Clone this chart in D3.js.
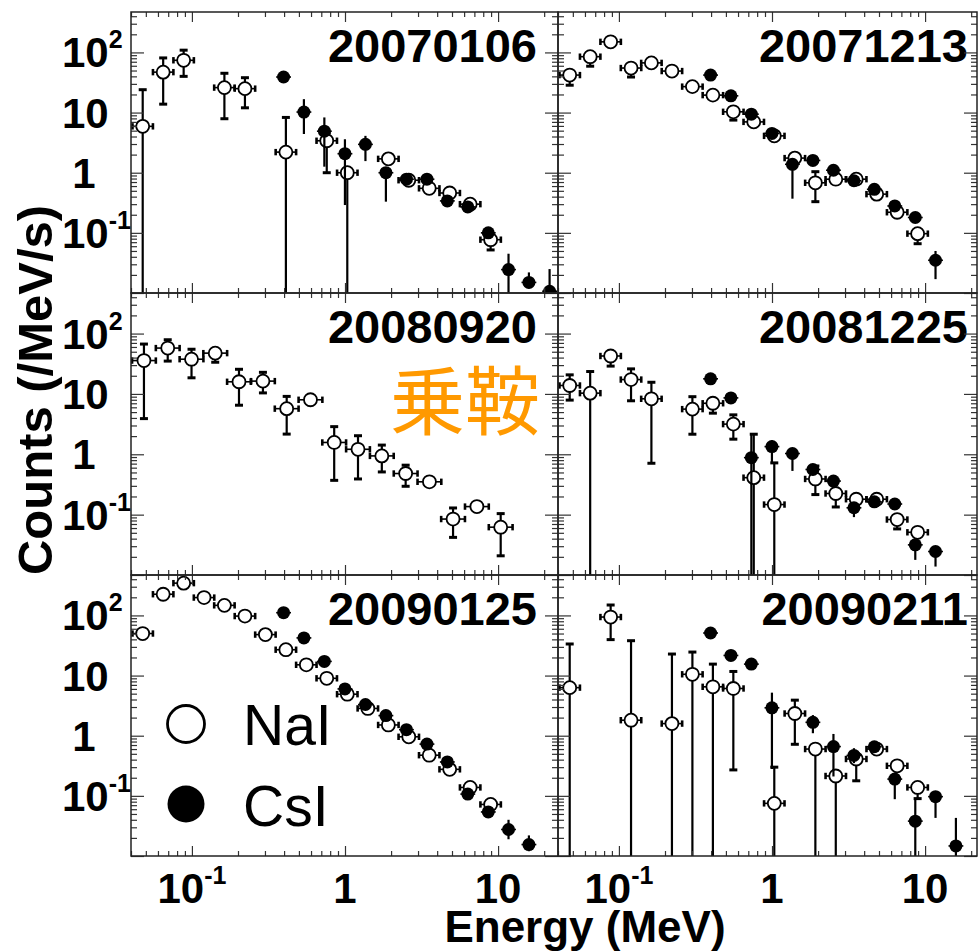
<!DOCTYPE html>
<html><head><meta charset="utf-8">
<script src="https://cdn.jsdelivr.net/npm/d3@7"></script>
<style>body{margin:0;background:#fff}svg{display:block}</style>
</head><body>
<svg id="c" width="980" height="952"></svg>
<script>
// ---------------- data ----------------
// each row: [energy (MeV), counts (/MeV/s), lower bound, upper bound]; lower bound 0 => bar runs off the axis
const panelLabels = ["20070106","20071213","20080920","20081225","20090125","20090211"];
const binRatio = [1.36, 1.36, 1.43, 1.36, 1.36, 1.36];   // NaI energy bin width factor per panel
const csiBinRatio = 1.25;
const xTickLabels = [[0.1,"10","-1"],[1,"1",""],[10,"10",""]];
const yTickLabels = [[100,"10","2"],[10,"10",""],[1,"1",""],[0.1,"10","-1"]];
const legendLabels = ["NaI","CsI"];
const siteLabel = "乗鞍";

const nai_20070106 = [
 [0.0477,5.9,0,24],[0.0649,47,13.8,81],[0.0883,74,40,109],[0.163,26,7.9,45],[0.222,25,12,38],
 [0.411,2.2,0,8.3],[0.760,3.4,1.0,4.6],[1.035,1.0,0,1.3],[1.92,1.7,1.45,2.0],[2.61,0.75,0.64,0.88],
 [3.55,0.55,0.47,0.64],[4.83,0.46,0.40,0.53],[6.57,0.30,0.26,0.35],[8.94,0.077,0.052,0.095]];
const csi_20070106 = [
 [0.397,39,34,45],[0.539,10.2,4.4,16.7],[0.733,4.9,1.26,8.3],[0.999,2.07,0.29,3.6],[1.36,2.96,1.56,4.1],
 [1.85,1.0,0.33,1.2],[2.52,0.78,0.68,0.9],[3.43,0.78,0.66,0.92],[4.66,0.34,0.30,0.39],[6.34,0.27,0.24,0.30],
 [8.63,0.10,0.085,0.12],[11.7,0.0245,0,0.045],[15.9,0.015,0.012,0.022],[21.7,0.0107,0,0.025]];

const nai_20071213 = [
 [0.0477,42,28.5,48],[0.0649,85,59,97],[0.0883,150,130,172],[0.120,55,39,63],[0.163,67,58,76],
 [0.222,49,42,56],[0.302,27,23,31],[0.411,19.5,16.5,22.5],[0.559,10.3,7.5,11.8],[0.760,7.0,6.0,8.0],
 [1.035,4.1,3.5,4.7],[1.41,1.75,1.45,2.3],[1.92,0.68,0.33,1.04],[2.61,0.78,0.70,0.88],[3.55,0.78,0.70,0.88],
 [4.83,0.44,0.38,0.50],[6.57,0.22,0.19,0.25],[8.94,0.097,0.066,0.11]];
const csi_20071213 = [
 [0.397,42,37,47],[0.539,19,17,21],[0.733,9.4,8.5,10.5],[0.999,4.5,4.0,5.0],[1.36,1.38,0.37,1.6],
 [1.85,1.6,1.3,1.9],[2.52,1.1,1.0,1.2],[3.43,0.735,0.66,0.82],[4.66,0.53,0.47,0.60],[6.34,0.28,0.25,0.31],
 [8.63,0.18,0.16,0.20],[11.7,0.035,0.017,0.05]];

const nai_20080920 = [
 [0.0486,35.7,3.9,67],[0.0695,57.5,35,79],[0.0994,37.6,18.5,55],[0.142,47.4,33.5,58],[0.203,15.9,6.5,25.6],
 [0.291,16.3,10.4,22.8],[0.416,5.7,2.16,9.1],[0.595,8.0,6.5,9.0],[0.850,1.57,0.37,2.87],[1.216,1.21,0.39,2.03],
 [1.74,0.94,0.51,1.42],[2.49,0.48,0.295,0.66],[3.56,0.35,0.30,0.40],[5.08,0.0845,0.042,0.129],
 [7.27,0.136,0.115,0.155],[10.4,0.062,0.0208,0.104]];
const csi_20080920 = [];

const nai_20081225 = [
 [0.0477,13.8,7.9,20.7],[0.0649,10.3,0,23.5],[0.0883,42.5,28.9,48],[0.120,17.3,7.7,26],[0.163,8.3,0.71,15.6],
 [0.302,5.6,2.15,9.0],[0.411,7.0,4.8,8.0],[0.559,3.16,1.78,4.5],[0.760,0.41,0,2.15],[1.035,0.147,0,0.72],
 [1.92,0.39,0.215,0.64],[2.61,0.224,0.134,0.26],[3.55,0.18,0.16,0.20],[4.83,0.18,0.16,0.20],
 [6.57,0.083,0.058,0.095],[8.94,0.051,0.045,0.058]];
const csi_20081225 = [
 [0.397,17.8,16,19.8],[0.539,8.6,7.7,9.6],[0.733,0.88,0,2.15],[0.999,1.34,0.73,1.7],[1.36,1.03,0.53,1.2],
 [1.85,0.56,0.45,0.64],[2.52,0.36,0.32,0.40],[3.43,0.13,0.091,0.15],[4.66,0.163,0.145,0.18],[6.34,0.15,0.135,0.17],
 [8.63,0.0316,0.0178,0.037],[11.7,0.0245,0.0138,0.029]];

const nai_20090125 = [
 [0.0477,50,45,55],[0.0649,225,205,245],[0.0883,344,315,375],[0.120,198,182,215],[0.163,147,135,160],
 [0.222,97.5,89,107],[0.302,48,44,52],[0.411,26.9,24.5,29.5],[0.559,15.1,13.8,16.5],[0.760,9.0,8.2,9.8],
 [1.035,4.9,4.5,5.3],[1.41,2.84,2.6,3.1],[1.92,1.51,1.38,1.65],[2.61,0.96,0.88,1.05],[3.55,0.474,0.43,0.52],
 [4.83,0.276,0.25,0.30],[6.57,0.138,0.125,0.152],[8.94,0.072,0.065,0.08]];
const csi_20090125 = [
 [0.397,111,102,120],[0.539,42.3,39,46],[0.733,17.2,15.8,18.7],[0.999,6.0,5.5,6.5],[1.36,3.3,3.0,3.6],
 [1.85,2.16,1.98,2.35],[2.52,1.26,1.15,1.38],[3.43,0.725,0.66,0.79],[4.66,0.366,0.33,0.40],[6.34,0.107,0.095,0.12],
 [8.63,0.054,0.047,0.062],[11.7,0.0276,0.019,0.04],[15.9,0.0155,0.012,0.022]];

const nai_20090211 = [
 [0.0477,6.3,0,33.5],[0.0883,94,39.6,149],[0.120,1.81,0,38],[0.222,1.59,0,22.8],[0.302,10.5,0,24.6],
 [0.411,6.5,0,15.5],[0.559,6.1,0.27,11.7],[1.035,0.075,0,0.3],[1.41,2.34,0.72,3.9],[1.92,0.6,0,0.75],
 [2.61,0.214,0,0.27],[3.55,0.41,0.178,0.5],[4.83,0.6,0.5,0.7],[6.57,0.316,0.25,0.4],[8.94,0.138,0.09,0.16]];
const csi_20090211 = [
 [0.397,51,46,56],[0.539,21.6,19.5,24],[0.733,15.5,14,17],[0.999,2.91,0.28,5.2],[1.85,1.67,1.1,2.2],
 [2.52,0.66,0.21,1.07],[3.43,0.47,0.35,0.62],[4.66,0.655,0.58,0.73],[6.34,0.19,0.088,0.23],
 [8.63,0.038,0,0.088],[11.7,0.097,0.043,0.12],[15.9,0.0147,0.01,0.043]];

const naiSets = [nai_20070106, nai_20071213, nai_20080920, nai_20081225, nai_20090125, nai_20090211];
const csiSets = [csi_20070106, csi_20071213, csi_20080920, csi_20081225, csi_20090125, csi_20090211];

// ---------------- layout ----------------
const xDomain = [0.04, 25], yDomain = [0.01, 470];
const colLeft = [131, 558], colRight = [558, 977], colSpan = 428;
const rowTop = [12, 293, 575], rowBot = [293, 575, 856];
const R = 6.5;
const FONT = "'Liberation Sans', Arial, Helvetica, sans-serif";

const svg = d3.select("#c");
const defs = svg.append("defs");

function logTicks(lo, hi) {
  const major = [], minor = [];
  for (let e = -3; e <= 3; e++) {
    for (let k = 1; k <= 9; k++) {
      const v = k * Math.pow(10, e);
      if (v >= lo * 0.9999 && v <= hi * 1.0001) (k === 1 ? major : minor).push(+v.toPrecision(3));
    }
  }
  return {major, minor};
}

panelLabels.forEach((lab, i) => {
  const c = i % 2, r = Math.floor(i / 2);
  const x0 = colLeft[c], x1 = colRight[c], y0 = rowTop[r], y1 = rowBot[r];
  const x = d3.scaleLog().domain(xDomain).range([x0, x0 + colSpan]);
  const y = d3.scaleLog().domain(yDomain).range([y1, y0]);
  const yy = v => (v > yDomain[0] ? y(v) : y1 + 20);

  defs.append("clipPath").attr("id", "clip" + i)
    .append("rect").attr("x", x0).attr("y", y0).attr("width", x1 - x0).attr("height", y1 - y0);
  const g = svg.append("g").attr("clip-path", `url(#clip${i})`);

  // date label
  svg.append("text").attr("x", c === 0 ? x1 - 21 : x1 - 9).attr("y", y0 + 50)
    .attr("text-anchor", "end").attr("font-family", FONT).attr("font-weight", "bold")
    .attr("font-size", 47).attr("fill", "#000").text(lab);

  // NaI
  const hw = Math.sqrt(binRatio[i]);
  const nai = g.append("g").selectAll("g").data(naiSets[i]).join("g");
  nai.each(function(d) {
    const s = d3.select(this);
    const cx = x(d[0]), cy = y(d[1]);
    const yl = yy(d[2]), yh = y(d[3]);
    s.append("line").attr("x1", cx).attr("x2", cx).attr("y1", yh).attr("y2", yl)
      .attr("stroke", "#000").attr("stroke-width", 2.2);
    if (yl - cy > R + 1) s.append("line").attr("x1", cx - 4).attr("x2", cx + 4).attr("y1", yl).attr("y2", yl)
      .attr("stroke", "#000").attr("stroke-width", 3);
    if (cy - yh > R + 1) s.append("line").attr("x1", cx - 4).attr("x2", cx + 4).attr("y1", yh).attr("y2", yh)
      .attr("stroke", "#000").attr("stroke-width", 3);
    const xl = x(d[0] / hw), xr = x(d[0] * hw);
    s.append("line").attr("x1", xl).attr("x2", xr).attr("y1", cy).attr("y2", cy)
      .attr("stroke", "#000").attr("stroke-width", 1.6);
    [xl, xr].forEach(xx => s.append("line").attr("x1", xx).attr("x2", xx).attr("y1", cy - 3.2).attr("y2", cy + 3.2)
      .attr("stroke", "#000").attr("stroke-width", 2.6));
    s.append("circle").attr("cx", cx).attr("cy", cy).attr("r", R)
      .attr("fill", "#fff").attr("stroke", "#000").attr("stroke-width", 1.8);
  });

  // CsI
  const ch = Math.sqrt(csiBinRatio);
  const csi = g.append("g").selectAll("g").data(csiSets[i]).join("g");
  csi.each(function(d) {
    const s = d3.select(this);
    const cx = x(d[0]), cy = y(d[1]);
    s.append("line").attr("x1", cx).attr("x2", cx).attr("y1", y(d[3])).attr("y2", yy(d[2]))
      .attr("stroke", "#000").attr("stroke-width", 2.2);
    s.append("line").attr("x1", x(d[0] / ch)).attr("x2", x(d[0] * ch)).attr("y1", cy).attr("y2", cy)
      .attr("stroke", "#000").attr("stroke-width", 1.6);
    s.append("circle").attr("cx", cx).attr("cy", cy).attr("r", R).attr("fill", "#000");
  });

  // axes (inward ticks on all four sides)
  const xt = logTicks(xDomain[0], x.invert(x1));
  const yt = logTicks(yDomain[0], yDomain[1]);
  const axG = svg.append("g");
  const mk = (axis, tr) => {
    const a = axG.append("g").attr("transform", tr).call(axis);
    a.select(".domain").remove();
    a.selectAll("line").attr("stroke", "#333").attr("stroke-width", 1.2);
  };
  mk(d3.axisBottom(x).tickValues(xt.major).tickSize(-10).tickFormat(""), `translate(0,${y1})`);
  mk(d3.axisBottom(x).tickValues(xt.minor).tickSize(-5).tickFormat(""), `translate(0,${y1})`);
  mk(d3.axisTop(x).tickValues(xt.major).tickSize(-10).tickFormat(""), `translate(0,${y0})`);
  mk(d3.axisTop(x).tickValues(xt.minor).tickSize(-5).tickFormat(""), `translate(0,${y0})`);
  mk(d3.axisLeft(y).tickValues(yt.major).tickSize(-13).tickFormat(""), `translate(${x0},0)`);
  mk(d3.axisLeft(y).tickValues(yt.minor).tickSize(-6).tickFormat(""), `translate(${x0},0)`);
  mk(d3.axisRight(y).tickValues(yt.major).tickSize(-13).tickFormat(""), `translate(${x1},0)`);
  mk(d3.axisRight(y).tickValues(yt.minor).tickSize(-6).tickFormat(""), `translate(${x1},0)`);
  svg.append("rect").attr("x", x0).attr("y", y0).attr("width", x1 - x0).attr("height", y1 - y0)
    .attr("fill", "none").attr("stroke", "#222").attr("stroke-width", 1.5);

  // y tick labels (left column)
  if (c === 0) {
    yTickLabels.forEach(([v, base, sup]) => {
      const ty = y(v);
      const t = svg.append("text").attr("font-family", FONT).attr("font-weight", "bold")
        .attr("font-size", 42).attr("fill", "#000").attr("y", ty + 15);
      if (base === "1") t.attr("x", 84).attr("text-anchor", "middle").text(base);
      else {
        t.attr("x", 62).text(base);
        if (sup) t.append("tspan").attr("font-size", 25).attr("dy", -19).text(sup);
      }
    });
  }
  // x tick labels (bottom row)
  if (r === 2) {
    xTickLabels.forEach(([v, base, sup]) => {
      const t = svg.append("text").attr("font-family", FONT).attr("font-weight", "bold")
        .attr("font-size", 42).attr("fill", "#000").attr("x", x(v)).attr("y", 903)
        .attr("text-anchor", "middle").text(base);
      if (sup) t.append("tspan").attr("font-size", 25).attr("dy", -19).text(sup);
    });
  }
});

// axis titles
svg.append("text").attr("x", 585).attr("y", 942).attr("text-anchor", "middle")
  .attr("font-family", FONT).attr("font-weight", "bold").attr("font-size", 44).text("Energy (MeV)");
svg.append("text").attr("transform", "translate(52,390) rotate(-90)").attr("text-anchor", "middle")
  .attr("font-family", FONT).attr("font-weight", "bold").attr("font-size", 49).text("Counts (/MeV/s)");

// legend
svg.append("circle").attr("cx", 186).attr("cy", 724).attr("r", 18.5).attr("fill", "#fff")
  .attr("stroke", "#000").attr("stroke-width", 2.8);
svg.append("circle").attr("cx", 186).attr("cy", 804).attr("r", 18.5).attr("fill", "#000");
svg.append("text").attr("x", 243).attr("y", 745).attr("font-family", FONT).attr("font-size", 57).text(legendLabels[0]);
svg.append("text").attr("x", 243).attr("y", 826).attr("font-family", FONT).attr("font-size", 57).text(legendLabels[1]);

// site label
svg.append("text").attr("x", 540).attr("y", 429).attr("text-anchor", "end")
  .attr("font-family", "'Noto Sans CJK JP', sans-serif").attr("font-size", 75)
  .attr("fill", "#FF9900").text(siteLabel);
</script>
</body></html>
